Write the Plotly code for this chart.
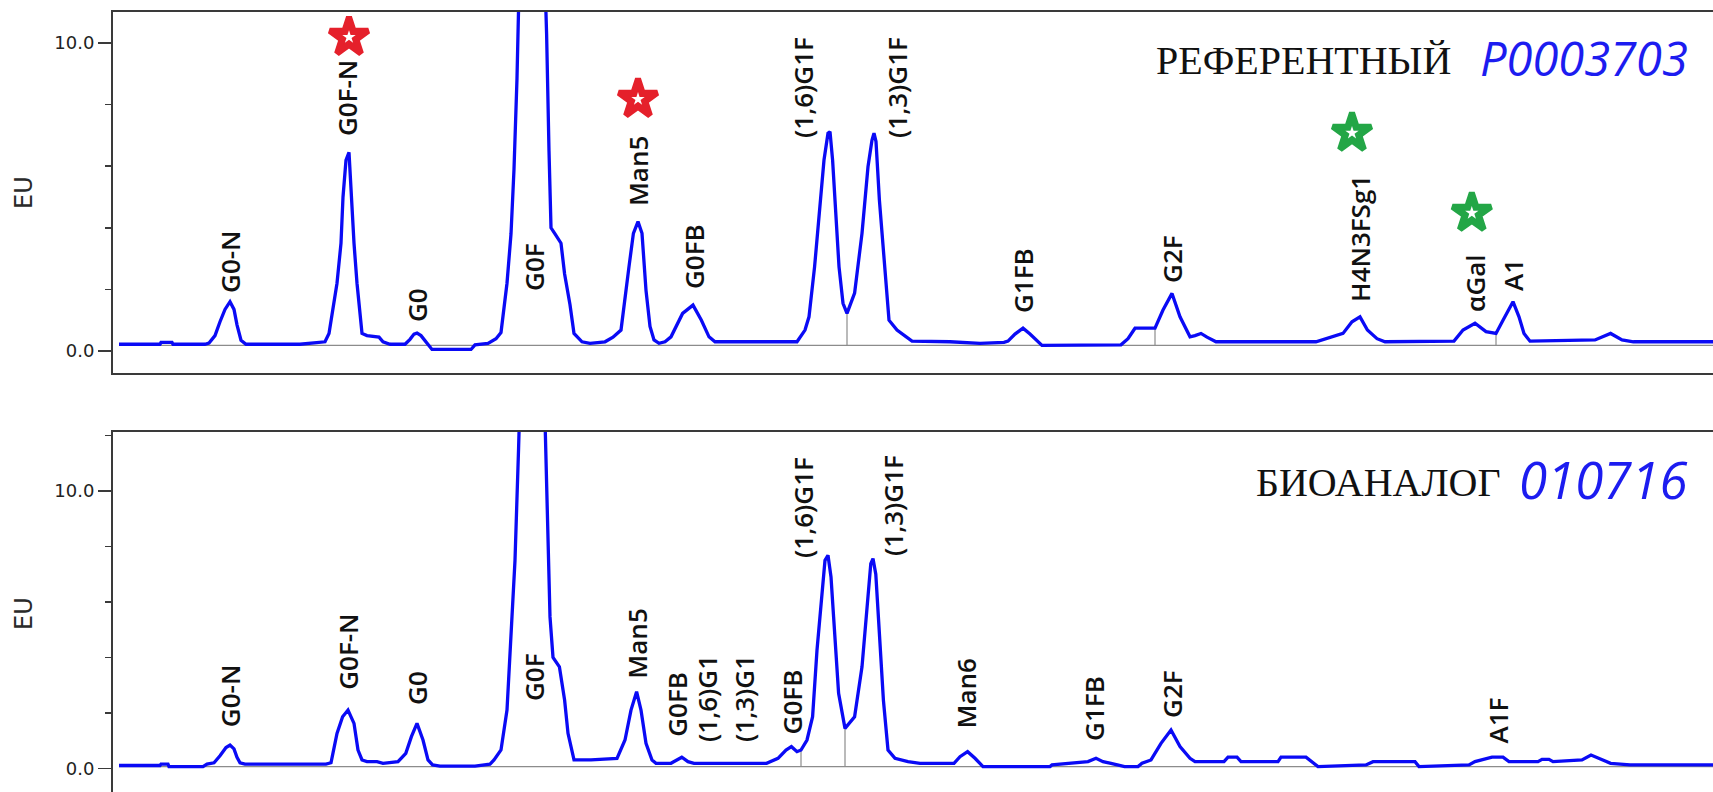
import plotly.graph_objects as go

# ---------------------------------------------------------------------------
# Fluorescence chromatograms of released N-glycans (retention time, min / EU)
# ---------------------------------------------------------------------------

# Reference product, lot P0003703
ref_time = [5.15, 6.175, 6.2, 6.475, 6.5, 7.3, 7.4, 7.55, 7.675, 7.8, 7.925, 8.025, 8.1, 8.2, 8.325,
            9.425, 9.675, 10.3, 10.4, 10.6, 10.7, 10.75, 10.825, 10.9, 10.95, 11.025, 11.1, 11.225,
            11.35, 11.65, 11.75, 11.925, 12.3, 12.425, 12.525, 12.6, 12.7, 12.825, 12.925, 12.975,
            13.95, 14.05, 14.375, 14.575, 14.7, 14.85, 14.95, 15.025, 15.1, 15.5, 15.8, 15.84, 15.9,
            15.95, 16.05, 16.2, 16.29, 16.425, 16.525, 16.725, 16.925, 17.3, 17.5, 17.7, 17.9, 18.01,
            18.125, 18.225, 18.325, 18.425, 18.525, 18.65, 18.8, 18.95, 19.24, 19.5, 19.71, 19.9,
            20.05, 22.1, 22.3, 22.4, 22.54, 22.675, 22.775, 22.875, 22.925, 22.99, 23.06, 23.15,
            23.25, 23.35, 23.54, 23.725, 23.875, 23.975, 24.025, 24.075, 24.16, 24.29, 24.4, 24.6,
            24.825, 24.975, 25.925, 26.675, 27.275, 27.375, 27.55, 27.75, 27.925, 28.125, 28.225,
            30.2, 30.375, 30.55, 31.05, 31.25, 31.475, 31.675, 31.925, 32.05, 32.2, 32.35, 32.575,
            35.075, 35.35, 35.75, 35.975, 36.175, 36.36, 36.6, 36.8, 38.525, 38.75, 39.05, 39.325,
            39.575, 39.75, 40.0, 40.15, 40.275, 40.425, 42.05, 42.44, 42.725, 43.01, 45.0]
ref_eu = [0.22, 0.22, 0.28, 0.28, 0.22, 0.22, 0.26, 0.5, 0.95, 1.35, 1.6, 1.35, 0.85, 0.35, 0.22,
          0.2, 0.22, 0.3, 0.57, 2.2, 3.5, 5.0, 6.2, 6.45, 5.1, 3.5, 2.2, 0.57,
          0.5, 0.45, 0.3, 0.22, 0.22, 0.38, 0.55, 0.58, 0.5, 0.3, 0.12, 0.05,
          0.05, 0.2, 0.25, 0.4, 0.6, 2.2, 3.8, 5.9, 8.85, 32.0, 12.0, 10.3, 6.5,
          4.0, 3.8, 3.5, 2.5, 1.5, 0.57, 0.3, 0.25, 0.3, 0.45, 0.68, 2.74, 3.82,
          4.2, 3.82, 1.97, 0.8, 0.36, 0.25, 0.3, 0.46, 1.22, 1.49, 1.0, 0.46,
          0.3, 0.3, 0.68, 1.11, 2.74, 4.9, 6.2, 7.07, 7.12, 6.2, 4.7, 2.74,
          1.55, 1.22, 1.88, 3.82, 5.98, 6.85, 7.07, 6.8, 4.9, 2.74, 1.0, 0.68,
          0.46, 0.32, 0.3, 0.25, 0.28, 0.32, 0.55, 0.74, 0.55, 0.28, 0.18,
          0.2, 0.4, 0.74, 0.74, 1.33, 1.87, 1.11, 0.46, 0.5, 0.57, 0.45, 0.3,
          0.3, 0.4, 0.57, 0.95, 1.11, 0.68, 0.4, 0.3, 0.32, 0.68, 0.9, 0.63,
          0.57, 1.0, 1.6, 1.11, 0.57, 0.32, 0.36, 0.57, 0.36, 0.3, 0.3]

# Biosimilar, lot 010716
bio_time = [5.15, 6.175, 6.2, 6.375, 6.4, 7.25, 7.35, 7.525, 7.675, 7.825, 7.925, 8.025, 8.1, 8.175,
            8.3, 10.325, 10.45, 10.6, 10.74, 10.875, 11.025, 11.125, 11.225, 11.35, 11.6, 11.75,
            12.125, 12.32, 12.46, 12.6, 12.75, 12.875, 12.99, 13.175, 14.05, 14.425, 14.525, 14.7,
            14.85, 14.95, 15.05, 15.14, 15.5, 15.81, 15.875, 15.925, 16.0, 16.16, 16.29, 16.375,
            16.525, 16.95, 17.6, 17.8, 17.95, 18.09, 18.2, 18.325, 18.475, 18.575, 18.95, 19.09,
            19.22, 19.375, 19.525, 21.34, 21.625, 21.825, 21.96, 22.1, 22.2, 22.35, 22.49, 22.6,
            22.725, 22.8, 22.875, 22.95, 23.015, 23.14, 23.3, 23.54, 23.725, 23.85, 23.945, 24.0,
            24.07, 24.16, 24.26, 24.375, 24.55, 24.875, 25.175, 26.025, 26.175, 26.365, 26.55,
            26.75, 28.425, 28.475, 29.375, 29.575, 29.75, 29.95, 30.29, 30.625, 30.725, 30.95,
            31.2, 31.45, 31.675, 31.925, 32.05, 32.775, 32.875, 33.1, 33.2, 34.125, 34.2, 34.825,
            35.025, 35.125, 36.325, 36.5, 37.55, 37.65, 38.9, 39.05, 39.475, 39.75, 39.9, 40.625,
            40.725, 40.9, 41.0, 41.725, 41.95, 42.2, 42.44, 42.925, 45.0]
bio_eu = [0.1, 0.1, 0.15, 0.15, 0.06, 0.06, 0.15, 0.2, 0.45, 0.75, 0.84, 0.7, 0.4, 0.2,
          0.15, 0.15, 0.2, 1.26, 1.86, 2.1, 1.62, 0.66, 0.3, 0.24, 0.24, 0.18,
          0.24, 0.54, 1.14, 1.62, 1.02, 0.3, 0.12, 0.08, 0.08, 0.15, 0.3, 0.66,
          2.1, 4.86, 7.5, 11.56, 30.0, 12.0, 8.8, 5.46, 4.0, 3.66, 2.46, 1.26,
          0.3, 0.3, 0.36, 1.02, 2.1, 2.76, 2.1, 0.9, 0.3, 0.18, 0.18, 0.3,
          0.4, 0.24, 0.18, 0.18, 0.36, 0.66, 0.78, 0.6, 0.66, 1.02, 1.86, 4.26,
          6.3, 7.5, 7.68, 6.9, 5.46, 2.7, 1.44, 1.86, 3.66, 5.82, 7.38, 7.56,
          7.0, 4.86, 2.46, 0.66, 0.36, 0.24, 0.18, 0.18, 0.42, 0.6, 0.36,
          0.06, 0.06, 0.12, 0.24, 0.36, 0.24, 0.18, 0.06, 0.06, 0.18, 0.3,
          0.9, 1.38, 0.78, 0.36, 0.24, 0.24, 0.4, 0.4, 0.24, 0.24, 0.4, 0.4,
          0.18, 0.06, 0.12, 0.24, 0.24, 0.06, 0.12, 0.24, 0.4, 0.4, 0.24, 0.24,
          0.32, 0.32, 0.24, 0.3, 0.48, 0.32, 0.18, 0.12, 0.12]

# Integration baselines and valley drop lines (retention times, min)
ref_baseline = 0.18
bio_baseline = 0.06
ref_drops = [23.35, 31.05, 39.575]
bio_drops = [22.2, 23.3]

# Peak assignments (name, retention time in min)
ref_peaks = ["G0-N", "G0F-N", "G0", "G0F", "Man5", "G0FB", "(1,6)G1F", "(1,3)G1F",
             "G1FB", "G2F", "H4N3FSg1", "αGal", "A1"]
ref_peak_time = [7.925, 10.9, 12.6, 15.5, 18.125, 19.5, 22.925, 24.025,
                 27.75, 31.475, 36.175, 39.05, 40.0]
bio_peaks = ["G0-N", "G0F-N", "G0", "G0F", "Man5", "G0FB", "(1,6)G1", "(1,3)G1", "G0FB",
             "(1,6)G1F", "(1,3)G1F", "Man6", "G1FB", "G2F", "A1F"]
bio_peak_time = [7.925, 10.875, 12.6, 15.5, 18.09, 19.22, 19.85, 20.775, 21.96,
                 22.875, 24.0, 26.365, 29.575, 31.45, 39.615]

# Glycoforms flagged as differing between products
flag_missing = ["G0F-N", "Man5"]         # red
flag_extra = ["H4N3FSg1", "αGal"]        # green

# ---------------------------------------------------------------------------
# Label placement (EU height of label centre, horizontal shift in px)
# ---------------------------------------------------------------------------
ref_label_y = [2.89, 8.21, 1.49, 2.73, 5.84, 3.05, 8.54, 8.54, 2.27, 2.99, 3.64, 2.21, 2.47]
ref_label_dx = [0, -2, 0, 1, 0, 1, -27, 23, 0, 0, 0, 0, 0]
bio_label_y = [2.6, 4.2, 2.9, 3.29, 4.48, 2.32, 2.5, 2.5, 2.39, 9.39, 9.46, 2.68, 2.14, 2.68, 1.71]
bio_label_dx = [0, 0, 0, 1, 0, -5, 0, 0, 1, -25, 20, -2, -2, 1, 0]
star_y = {"G0F-N": 10.19, "Man5": 8.18, "H4N3FSg1": 7.08, "αGal": 4.48}
star_dt = {"G0F-N": 0.0, "Man5": 0.0, "H4N3FSg1": -0.2, "αGal": -0.08}

TRACE_BLUE = "#0a0af5"
AXIS_GREY = "#3a3a3a"
BASE_GREY = "#8c8c8c"
LABEL_FONT = dict(family="Open Sans, DejaVu Sans, sans-serif", size=26, color="#111111",
                  weight=600)

fig = go.Figure()


def add_panel(times, values, base, drops, xa, ya):
    lookup = dict(zip(times, values))
    fig.add_trace(go.Scatter(x=[times[0], times[-1]], y=[base, base], mode="lines",
                             line=dict(color=BASE_GREY, width=1.2),
                             xaxis=xa, yaxis=ya, hoverinfo="skip", showlegend=False))
    for t in drops:
        fig.add_trace(go.Scatter(x=[t, t], y=[base, lookup[t]], mode="lines",
                                 line=dict(color=BASE_GREY, width=1.2),
                                 xaxis=xa, yaxis=ya, hoverinfo="skip", showlegend=False))
    fig.add_trace(go.Scatter(x=times, y=values, mode="lines",
                             line=dict(color=TRACE_BLUE, width=3.3),
                             xaxis=xa, yaxis=ya, hoverinfo="skip", showlegend=False))


add_panel(ref_time, ref_eu, ref_baseline, ref_drops, "x", "y")
add_panel(bio_time, bio_eu, bio_baseline, bio_drops, "x2", "y2")

annotations = []


def add_labels(names, times, ys, dxs, xref, yref):
    for name, t, y, dx in zip(names, times, ys, dxs):
        annotations.append(dict(x=t, y=y, xref=xref, yref=yref, text=name, textangle=-90,
                                showarrow=False, xanchor="center", yanchor="middle",
                                xshift=dx, font=LABEL_FONT))


add_labels(ref_peaks, ref_peak_time, ref_label_y, ref_label_dx, "x", "y")
add_labels(bio_peaks, bio_peak_time, bio_label_y, bio_label_dx, "x2", "y2")

# Star flags above the flagged peaks
for names, colour in ((flag_missing, "#e5202b"), (flag_extra, "#23a646")):
    xs = [ref_peak_time[ref_peaks.index(n)] + star_dt[n] for n in names]
    ys = [star_y[n] for n in names]
    fig.add_trace(go.Scatter(x=xs, y=ys, mode="markers", xaxis="x", yaxis="y",
                             marker=dict(symbol="star", size=29, color=colour,
                                         line=dict(color=colour, width=6)),
                             hoverinfo="skip", showlegend=False))
    fig.add_trace(go.Scatter(x=xs, y=ys, mode="markers", xaxis="x", yaxis="y",
                             marker=dict(symbol="star", size=10, color="white",
                                         line=dict(width=0)),
                             hoverinfo="skip", showlegend=False))

W, H = 1713, 792


def px_x(p):
    return p / W


def px_y(p):
    return 1 - p / H


# Panel titles: product type and lot number
titles = [("РЕФЕРЕНТНЫЙ", "P0003703", 1453, 1478, 61, 58, 47),
          ("БИОАНАЛОГ", "010716", 1503, 1517, 482, 479, 51)]
for word, lot, x_word, x_lot, y_word, y_lot, lot_size in titles:
    annotations.append(dict(x=px_x(x_word), y=px_y(y_word), xref="paper", yref="paper",
                            text=word, showarrow=False, xanchor="right", yanchor="middle",
                            font=dict(family="Liberation Serif, Times New Roman, serif",
                                      size=40, color="#111111")))
    annotations.append(dict(x=px_x(x_lot), y=px_y(y_lot), xref="paper", yref="paper",
                            text=f"<i>{lot}</i>", showarrow=False, xanchor="left",
                            yanchor="middle",
                            font=dict(family="Open Sans, DejaVu Sans, sans-serif",
                                      size=lot_size, color="#1c1cf0")))

# Axis titles
for yc in (193, 614):
    annotations.append(dict(x=px_x(24), y=px_y(yc), xref="paper", yref="paper", text="EU",
                            textangle=-90, showarrow=False, xanchor="center", yanchor="middle",
                            font=dict(family="DejaVu Sans, Arial, sans-serif", size=24,
                                      color="#2a2a2a")))

x_dom = [113 / W, 1.0]
xaxis_common = dict(range=[5, 45], showgrid=False, zeroline=False, showticklabels=False,
                    ticks="", showline=True, linecolor=AXIS_GREY, linewidth=2)
yaxis_common = dict(showgrid=False, zeroline=False, showline=True, linecolor=AXIS_GREY,
                    linewidth=2, ticks="outside", ticklen=13, tickwidth=1.5,
                    tickcolor=AXIS_GREY, tickvals=[0, 10], ticktext=["0.0", "10.0"],
                    tickfont=dict(family="DejaVu Sans, Arial, sans-serif", size=18,
                                  color="#222222"),
                    minor=dict(dtick=2, tick0=0, ticks="outside", ticklen=6, tickwidth=1.5,
                               tickcolor=AXIS_GREY, showgrid=False))

fig.update_layout(
    width=W, height=H,
    margin=dict(l=0, r=0, t=0, b=0, autoexpand=False),
    paper_bgcolor="white", plot_bgcolor="white",
    xaxis=dict(domain=x_dom, anchor="y", mirror=True, **xaxis_common),
    yaxis=dict(domain=[(H - 373) / H, (H - 12) / H], anchor="x",
               range=[-0.714, 11.006], **yaxis_common),
    xaxis2=dict(domain=x_dom, anchor="y2", side="top", **xaxis_common),
    yaxis2=dict(domain=[0, (H - 432) / H], anchor="x2",
                range=[-0.855, 12.128], **yaxis_common),
    annotations=annotations,
    hovermode=False,
)

fig.write_html("out.html", config={"displayModeBar": False, "staticPlot": True})
